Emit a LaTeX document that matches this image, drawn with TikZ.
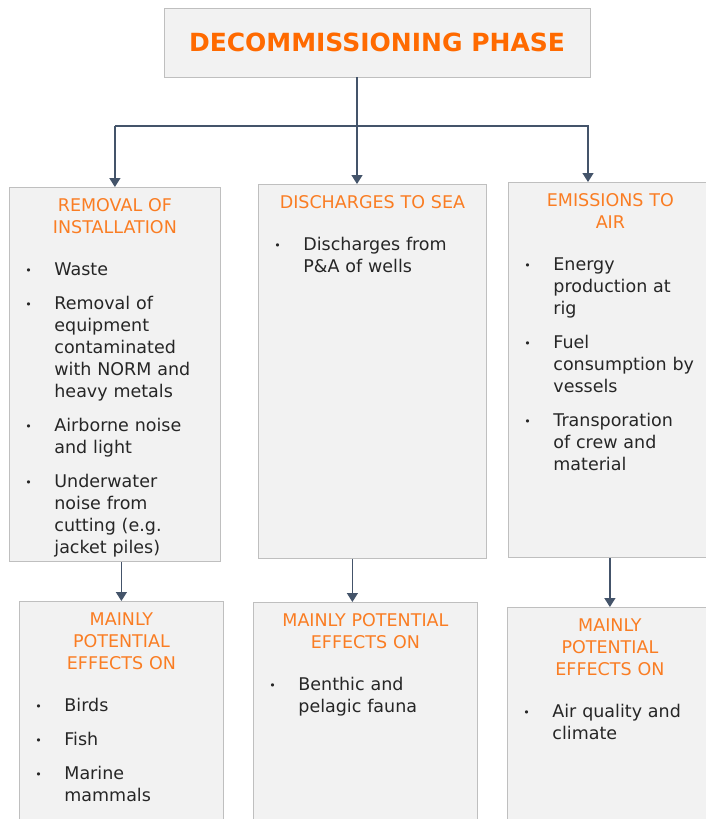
\documentclass[tikz,border=0pt]{standalone}
\usepackage{fontspec}
\setmainfont{DejaVu Sans}
\usetikzlibrary{arrows.meta}
\definecolor{boxfill}{RGB}{242,242,242}
\definecolor{boxline}{RGB}{191,191,191}
\definecolor{linkgray}{RGB}{68,84,106}
\definecolor{titleorange}{RGB}{255,106,0}
\definecolor{headorange}{RGB}{250,125,35}
\definecolor{bodytext}{RGB}{38,38,38}
\newcommand{\aspecthead}[1]{{\centering\leavevmode\color{headorange}#1\par}\vspace{20pt}}
\newcommand{\bulletline}[1]{{\let\\\newline\noindent\hangindent=35pt\hangafter=1\makebox[35pt][l]{\hspace{6pt}\raisebox{1pt}{\fontsize{11}{11}\selectfont\textbullet}}#1\par}\vspace{12pt}}
\tikzset{
  phase/.style={draw=boxline, fill=boxfill, line width=0.8pt, minimum width=426pt, minimum height=69pt,
    text=titleorange, font=\fontsize{25}{30}\selectfont\bfseries},
  aspect/.style={draw=boxline, fill=boxfill, line width=0.8pt, anchor=north west, align=left,
    inner xsep=10pt, inner ysep=11pt, text height=13pt, text=bodytext, font=\fontsize{17.5}{22}\selectfont},
  link/.style={draw=linkgray, line width=1.3pt, -{Triangle[width=11pt,length=9pt]}}
}
\begin{document}
\begin{tikzpicture}[x=1pt,y=-1pt]
  \useasboundingbox[fill=white] (0,0) rectangle (706,819);
  \node[phase] (phase) at (377,42.5) {DECOMMISSIONING PHASE};

  \node[aspect, text width=191pt, text depth=339pt] (removal) at (9,187) {%
    \aspecthead{REMOVAL OF\\INSTALLATION}%
    \bulletline{Waste}%
    \bulletline{Removal of\\equipment\\contaminated\\with NORM and\\heavy metals}%
    \bulletline{Airborne noise\\and light}%
    \bulletline{Underwater\\noise from\\cutting (e.g.\\jacket piles)}};
  \node[aspect, text width=208pt, text depth=339pt] (discharge) at (258,184) {%
    \aspecthead{DISCHARGES TO SEA}%
    \bulletline{Discharges from\\P\&A of wells}};
  \node[aspect, text width=184pt, text depth=340pt] (emission) at (508,182) {%
    \aspecthead{EMISSIONS TO\\AIR}%
    \bulletline{Energy\\production at\\rig}%
    \bulletline{Fuel\\consumption by\\vessels}%
    \bulletline{Transporation\\of crew and\\material}};

  \node[aspect, text width=184pt, text depth=200pt] (removaleff) at (19,601) {%
    \aspecthead{MAINLY\\POTENTIAL\\EFFECTS ON}%
    \bulletline{Birds}%
    \bulletline{Fish}%
    \bulletline{Marine\\mammals}};
  \node[aspect, text width=204pt, text depth=200pt] (dischargeeff) at (253,602) {%
    \aspecthead{MAINLY POTENTIAL\\EFFECTS ON}%
    \bulletline{Benthic and\\pelagic fauna}};
  \node[aspect, text width=185pt, text depth=200pt] (emissioneff) at (507,607) {%
    \aspecthead{MAINLY\\POTENTIAL\\EFFECTS ON}%
    \bulletline{Air quality and\\climate}};

  \coordinate (split) at (357,126);
  \coordinate (airturn) at (588,126);
  \draw[link] (phase.south -| split) -- (discharge.north -| split);
  \draw[link] (split -| removal.north) -- (airturn) -- (airturn |- emission.north);
  \draw[link] (split -| removal.north) -- (removal.north);
  \draw[link] (removaleff.north |- removal.south) -- (removaleff.north);
  \draw[link] ([xshift=-20pt]discharge.south) -- ([xshift=-20pt]discharge.south |- dischargeeff.north);
  \draw[link] (emissioneff.north |- emission.south) -- (emissioneff.north);
\end{tikzpicture}
\end{document}
